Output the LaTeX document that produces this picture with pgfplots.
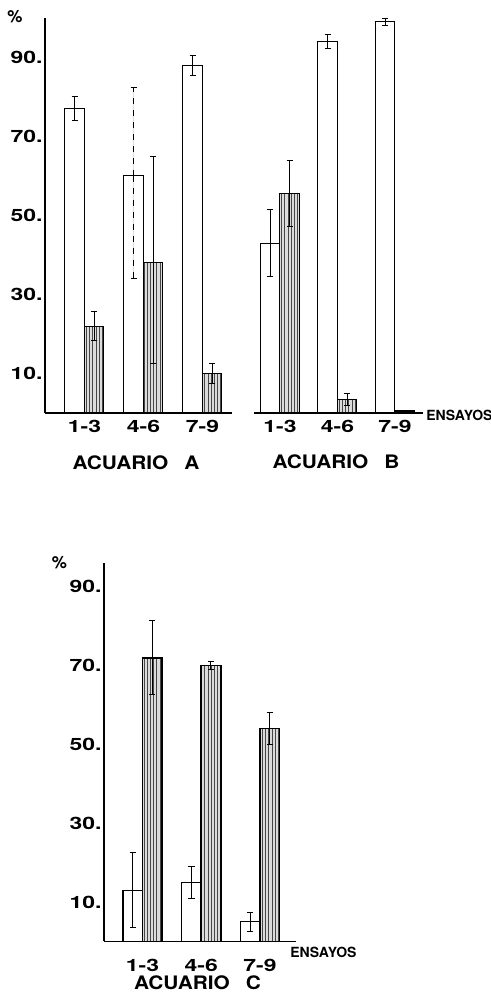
\documentclass[border=0pt]{standalone}
\usepackage{fontspec}
\setmainfont{TeX Gyre Heros}
\newfontfamily\numfont{TeX Gyre Heros}[FakeStretch=1.35]
\newfontfamily\titfont{TeX Gyre Heros}[FakeStretch=1.12]
\usepackage{pgfplots}
\pgfplotsset{compat=1.18}
\usetikzlibrary{patterns.meta}

\pgfplotsset{
  acuario/.style={
    scale only axis, anchor=south west, clip=false,
    ybar, enlargelimits=false,
    axis x line*=bottom, axis y line*=left,
    axis line style={black, line width=0.8pt},
    major tick length=0pt,
    ymin=0, ymax=100,
    xtick={1,2,3}, xticklabels={1-3,4-6,7-9},
    ytick={10,30,50,70,90}, yticklabels={10.,30.,50.,70.,90.},
    tick label style={font=\numfont\bfseries\fontsize{8.5}{10}\selectfont, inner sep=0pt},
    xticklabel style={anchor=north, yshift=-3.5pt},
    yticklabel style={anchor=east, xshift=-1pt},
    bar width=9.75pt,
    error bars/y dir=both, error bars/y explicit,
    error bars/error bar style={line width=0.5pt, black},
    error bars/error mark options={rotate=90, mark size=1.6pt, line width=0.5pt, black},
  },
  blanco/.style={draw=black, fill=white, line width=0.5pt, bar shift=-4.875pt},
  rayado/.style={draw=black, fill=gray!28, line width=0.5pt, bar shift=4.875pt,
    postaction={pattern={Lines[angle=90,distance=1.6pt,line width=0.35pt]}, pattern color=gray!55!black}},
}

\begin{document}
\begin{tikzpicture}
\useasboundingbox (0,0) rectangle (245.5pt,498.5pt);

% ACUARIO A
\begin{axis}[acuario, at={(22.5pt,292pt)}, width=93.5pt, height=197.5pt,
  xmin=0.331, xmax=3.5]
\addplot[blanco] coordinates {(1,77) +- (0,3) (3,88) +- (0,2.5)};
\addplot[blanco, error bars/error bar style={dashed}] coordinates {(2,60) += (0,22.5) -= (0,26)};
\addplot[rayado] coordinates {(1,22) +- (0,3.6) (2,38) += (0,27) -= (0,25.5) (3,10) +- (0,2.5)};
\end{axis}

% ACUARIO B
\begin{axis}[acuario, at={(127pt,292pt)}, width=84.5pt, height=197.5pt,
  xmin=0.548, xmax=3.487, axis y line=none, ytick=\empty]
\addplot[blanco] coordinates {(1,43) +- (0,8.5) (2,94) +- (0,1.7) (3,99) +- (0,0.8)};
\addplot[rayado] coordinates {(1,55.6) +- (0,8.3) (2,3.5) +- (0,1.5)};
\addplot[draw=black, fill=black, bar shift=4.875pt, error bars/y dir=none] coordinates {(3,0.6)};
\end{axis}

% ACUARIO C
\begin{axis}[acuario, at={(52pt,27.75pt)}, width=96pt, height=189.25pt,
  xmin=0.345, xmax=3.613, ymax=96,
  xticklabel style={yshift=-5pt}]
\addplot[blanco, line width=0.7pt] coordinates {(1,13) +- (0,9.5) (2,15) +- (0,4) (3,5) +- (0,2.4)};
\addplot[rayado, line width=0.9pt] coordinates {(1,72) +- (0,9.3) (2,70) +- (0,1) (3,54) +- (0,4)};
\end{axis}

\node[font=\bfseries\fontsize{8.5}{10}\selectfont] at (7.5pt,490.25pt) {\%};
\node[font=\bfseries\fontsize{8.5}{10}\selectfont] at (29.75pt,217pt) {\%};
\node[anchor=west, inner sep=0pt, font=\bfseries\fontsize{7}{8}\selectfont] at (213pt,291pt) {ENSAYOS};
\node[anchor=north west, inner sep=0pt, font=\bfseries\fontsize{7}{8}\selectfont] at (145pt,25pt) {ENSAYOS};
\node[font=\titfont\bfseries\fontsize{9.3}{11}\selectfont] at (68pt,267pt) {ACUARIO\hspace{8pt}A};
\node[font=\titfont\bfseries\fontsize{9.3}{11}\selectfont] at (168pt,267.5pt) {ACUARIO\hspace{8pt}B};
\node[font=\titfont\bfseries\fontsize{9.3}{11}\selectfont] at (98.75pt,7pt) {ACUARIO\hspace{8pt}C};
\end{tikzpicture}
\end{document}
